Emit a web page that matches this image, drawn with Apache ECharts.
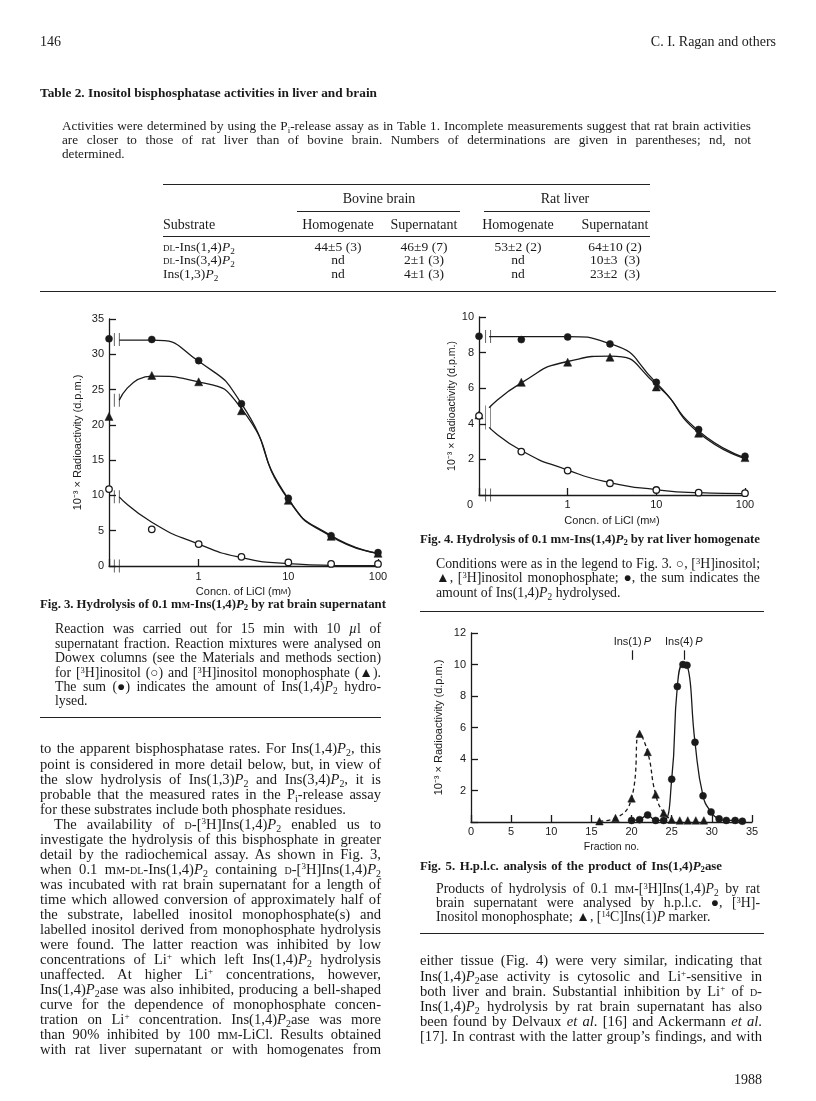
<!DOCTYPE html>
<html><head><meta charset="utf-8">
<script src="https://cdn.jsdelivr.net/npm/echarts@6/dist/echarts.min.js"></script>
<style>
html,body{margin:0;padding:0;background:#fff;}
#page{position:relative;width:816px;height:1101px;overflow:hidden;font-family:"Liberation Serif","Times New Roman",serif;color:#1a1a1a;}
#chart{position:absolute;left:0;top:0;width:816px;height:1101px;}
.ln{position:absolute;white-space:nowrap;}
.rule{position:absolute;height:0;border-top:1.5px solid #222;}
.sc{font-variant:small-caps;}
sub{font-size:0.68em;vertical-align:-0.28em;line-height:0;}
sup{font-size:0.62em;vertical-align:0.5em;line-height:0;}
b{font-weight:bold;}
</style>
</head><body>
<div id="page">
  <div id="chart"></div>
  <div id="text"></div>
</div>
<script>
// ---------------- DATA ----------------
// Fig. 3 / Fig. 4: LiCl concentration (mM); 0 is drawn where the axis starts (0.1 on the log scale)
const liclConc = [0, 0.3, 1, 3, 10, 30, 100];
const fig3Sum  = [32.2, 32.1, 29.1, 23.0, 9.6, 4.3, 1.9];
const fig3Mono = [21.2, 27.0, 26.1, 22.0, 9.3, 4.2, 1.8];
const fig3Ino  = [10.9, 5.2, 3.1, 1.3, 0.5, 0.3, 0.3];
// drawn (fitted) curves, starting at the axis break
const curveConc    = [0.13, 0.3, 1, 3, 10, 30, 100];
const fig3SumCurve  = [32.0, 32.0, 29.0, 23.0, 9.5, 4.3, 1.8];
const fig3MonoCurve = [23.5, 26.9, 26.1, 22.3, 9.4, 4.2, 1.8];
const fig3InoCurve  = [9.8, 6.2, 3.1, 1.2, 0.35, 0.1, 0.05];

const fig4Sum  = [8.92, 8.73, 8.88, 8.49, 6.33, 3.68, 2.18];
const fig4Mono = [4.5, 6.33, 7.46, 7.74, 6.07, 3.47, 2.1];
const fig4Ino  = [4.45, 2.44, 1.37, 0.66, 0.28, 0.13, 0.1];
const fig4SumCurve  = [8.9, 8.9, 8.9, 8.5, 6.3, 3.6, 2.1];
const fig4MonoCurve = [4.9, 6.3, 7.5, 7.8, 6.2, 3.5, 2.05];
const fig4InoCurve  = [3.8, 2.5, 1.4, 0.7, 0.3, 0.13, 0.08];

// axis-break marks (y positions)
const fig3BreakY = [32.1, 23.5, 9.8, 0];
const fig4BreakY = [8.9, 4.35, 0];
const fig4BreakTall = [false, true, false];

// Fig. 5: h.p.l.c. fractions
const fracCircle = [20, 21, 22, 23, 24, 25, 25.7, 26.4, 26.9, 27.9, 28.9, 29.9, 30.9, 31.8, 32.9, 33.8];
const ins4P      = [0.1, 0.15, 0.45, 0.1, 0.1, 2.72, 8.6, 10.0, 9.95, 5.06, 1.66, 0.64, 0.2, 0.1, 0.1, 0.05];
const fracTri    = [16, 18, 20, 21, 22, 23, 24, 25, 26, 27, 28, 29];
const ins1P      = [0.05, 0.25, 1.5, 5.6, 4.45, 1.75, 0.57, 0.15, 0.1, 0.1, 0.1, 0.1];
const peakNames  = ['Ins(1)', 'Ins(4)'];
const peakFrac   = [20.1, 26.5];
const peakMark   = [10.3, 10.9];

// Table 2
const tableGroups = ['Bovine brain', 'Rat liver'];
const tableCols = ['Substrate', 'Homogenate', 'Supernatant', 'Homogenate', 'Supernatant'];
const tableSubstrates = ['<span class="sc">dl</span>-Ins(1,4)<i>P</i><sub>2</sub>', '<span class="sc">dl</span>-Ins(3,4)<i>P</i><sub>2</sub>', 'Ins(1,3)<i>P</i><sub>2</sub>'];
const tableRows = [
  ['44±5 (3)', '46±9 (7)', '53±2 (2)', '64±10 (2)'],
  ['nd', '2±1 (3)', 'nd', '10±3&nbsp; (3)'],
  ['nd', '4±1 (3)', 'nd', '23±2&nbsp; (3)']
];

// ---------------- TEXT ----------------
const SC = s => '<span class="sc">' + s + '</span>';
const P2 = '<i>P</i><sub>2</sub>';
const H3 = '[<sup>3</sup>H]';

const tablePara = [
  'Activities were determined by using the P<sub>i</sub>-release assay as in Table 1. Incomplete measurements suggest that rat brain activities',
  'are closer to those of rat liver than of bovine brain. Numbers of determinations are given in parentheses; nd, not',
  'determined.'
];
const fig3Caption = [
  'Reaction was carried out for 15 min with 10 <i>µ</i>l of',
  'supernatant fraction. Reaction mixtures were analysed on',
  'Dowex columns (see the Materials and methods section)',
  'for ' + H3 + 'inositol (○) and ' + H3 + 'inositol monophosphate (▲).',
  'The sum (●) indicates the amount of Ins(1,4)' + P2 + ' hydro-',
  'lysed.'
];
const fig4Caption = [
  'Conditions were as in the legend to Fig. 3. ○, ' + H3 + 'inositol;',
  '▲, ' + H3 + 'inositol monophosphate; ●, the sum indicates the',
  'amount of Ins(1,4)' + P2 + ' hydrolysed.'
];
const fig5Caption = [
  'Products of hydrolysis of 0.1 m' + SC('m') + '-' + H3 + 'Ins(1,4)' + P2 + ' by rat',
  'brain supernatant were analysed by h.p.l.c. ●, ' + H3 + '-',
  'Inositol monophosphate; ▲, [<sup>14</sup>C]Ins(1)<i>P</i> marker.'
];
const leftBody = [
  'to the apparent bisphosphatase rates. For Ins(1,4)' + P2 + ', this',
  'point is considered in more detail below, but, in view of',
  'the slow hydrolysis of Ins(1,3)' + P2 + ' and Ins(3,4)' + P2 + ', it is',
  'probable that the measured rates in the P<sub>i</sub>-release assay',
  'for these substrates include both phosphate residues.',
  'The availability of ' + SC('d') + '-' + H3 + 'Ins(1,4)' + P2 + ' enabled us to',
  'investigate the hydrolysis of this bisphosphate in greater',
  'detail by the radiochemical assay. As shown in Fig. 3,',
  'when 0.1 m' + SC('m') + '-' + SC('dl') + '-Ins(1,4)' + P2 + ' containing ' + SC('d') + '-' + H3 + 'Ins(1,4)' + P2,
  'was incubated with rat brain supernatant for a length of',
  'time which allowed conversion of approximately half of',
  'the substrate, labelled inositol monophosphate(s) and',
  'labelled inositol derived from monophosphate hydrolysis',
  'were found. The latter reaction was inhibited by low',
  'concentrations of Li<sup>+</sup> which left Ins(1,4)' + P2 + ' hydrolysis',
  'unaffected. At higher Li<sup>+</sup> concentrations, however,',
  'Ins(1,4)' + P2 + 'ase was also inhibited, producing a bell-shaped',
  'curve for the dependence of monophosphate concen-',
  'tration on Li<sup>+</sup> concentration. Ins(1,4)' + P2 + 'ase was more',
  'than 90% inhibited by 100 m' + SC('m') + '-LiCl. Results obtained',
  'with rat liver supernatant or with homogenates from'
];
const rightBody = [
  'either tissue (Fig. 4) were very similar, indicating that',
  'Ins(1,4)' + P2 + 'ase activity is cytosolic and Li<sup>+</sup>-sensitive in',
  'both liver and brain. Substantial inhibition by Li<sup>+</sup> of ' + SC('d') + '-',
  'Ins(1,4)' + P2 + ' hydrolysis by rat brain supernatant has also',
  'been found by Delvaux <i>et al</i>. [16] and Ackermann <i>et al</i>.',
  '[17]. In contrast with the latter group’s findings, and with'
];

// ---------------- PAGE TEXT LAYOUT ----------------
const textLayer = document.getElementById('text');
function addLine(html, left, right, cy, lh, size, opts) {
  opts = opts || {};
  const d = document.createElement('div');
  d.className = 'ln';
  d.style.left = left + 'px';
  d.style.top = (cy - lh / 2) + 'px';
  d.style.lineHeight = lh + 'px';
  d.style.fontSize = size + 'px';
  if (opts.bold) d.style.fontWeight = 'bold';
  d.innerHTML = html;
  textLayer.appendChild(d);
  if (opts.justify && right != null) {
    const nat = d.getBoundingClientRect().width;
    const spaces = (d.textContent.match(/ /g) || []).length;
    if (spaces) d.style.wordSpacing = ((right - left - nat) / spaces) + 'px';
  }
  if (opts.alignRight) { const w = d.getBoundingClientRect().width; d.style.left = (right - w) + 'px'; }
  if (opts.center != null) { const w = d.getBoundingClientRect().width; d.style.left = (opts.center - w / 2) + 'px'; }
  return d;
}
function addBlock(lines, left, right, top, lh, size, lastIdx, indents) {
  indents = indents || {};
  lines.forEach((html, i) => {
    const l = left + (indents[i] || 0);
    addLine(html, l, right, top + i * lh, lh, size, {justify: lastIdx.indexOf(i) < 0});
  });
}
function addRule(x1, x2, y, w) {
  const r = document.createElement('div');
  r.className = 'rule';
  r.style.left = x1 + 'px'; r.style.width = (x2 - x1) + 'px'; r.style.top = y + 'px';
  if (w) r.style.borderTopWidth = w + 'px';
  textLayer.appendChild(r);
}

// header
addLine('146', 40, null, 42, 16, 14);
addLine('C. I. Ragan and others', null, 776, 42, 16, 14, {alignRight: true});
addLine('Table 2. Inositol bisphosphatase activities in liver and brain', 40, 377, 93, 16, 13.3, {bold: true, justify: true});
addBlock(tablePara, 62, 751, 126, 14, 13.2, [2]);
// table
addRule(163, 650, 184, 1.3);
addLine(tableGroups[0], null, null, 199, 16, 14, {center: 379});
addLine(tableGroups[1], null, null, 199, 16, 14, {center: 565});
addRule(297, 460, 211, 1.1);
addRule(484, 650, 211, 1.1);
const colCenters = [338, 424, 518, 615];
addLine(tableCols[0], 163, null, 225, 16, 14);
for (let c = 1; c < 5; c++) addLine(tableCols[c], null, null, 225, 16, 14, {center: colCenters[c - 1]});
addRule(163, 650, 236, 1.3);
tableRows.forEach((row, r) => {
  const cy = 246.5 + r * 13.6;
  addLine(tableSubstrates[r], 163, null, cy, 14, 13.5);
  row.forEach((v, c) => addLine(v, null, null, cy, 14, 13.5, {center: colCenters[c]}));
});
addRule(40, 776, 291, 1.8);

// figure captions
addLine('Fig. 3. Hydrolysis of 0.1 m' + SC('m') + '-Ins(1,4)' + P2 + ' by rat brain supernatant', 40, 386, 604, 16, 12.8, {bold: true, justify: true});
addBlock(fig3Caption, 55, 381, 629.5, 14.4, 13.8, [5]);
addRule(40, 381, 717, 1.6);
addLine('Fig. 4. Hydrolysis of 0.1 m' + SC('m') + '-Ins(1,4)' + P2 + ' by rat liver homogenate', 420, 760, 539, 16, 12.8, {bold: true, justify: true});
addBlock(fig4Caption, 436, 760, 564, 14.6, 13.8, [2]);
addRule(420, 764, 611, 1.6);
addLine('Fig. 5. H.p.l.c. analysis of the product of Ins(1,4)' + P2 + 'ase', 420, 722, 866, 16, 12.8, {bold: true, justify: true});
addBlock(fig5Caption, 436, 760, 889, 14.2, 13.8, [2]);
addRule(420, 764, 933, 1.6);

// body text
addBlock(leftBody, 40, 381, 749, 15.05, 14.6, [4], {5: 14});
addBlock(rightBody, 420, 762, 961, 15.05, 14.6, []);
addLine('1988', null, 762, 1080, 16, 14, {alignRight: true});

// ---------------- CHARTS ----------------
const INK = '#1a1a1a';
const FONT = '"Liberation Sans", Arial, sans-serif';
const ZERO_AT = 0.1;      // where concentration 0 sits on the log axis
const BREAK_AT = [0.122, 0.127];
const BREAK = 'path://M0,0L0,10M4,0L4,10';

const chart = echarts.init(document.getElementById('chart'), null, {renderer: 'canvas'});

function logX(gridIndex, zeroLabel) {
  return {
    type: 'log', logBase: 10, gridIndex, min: 0.1, max: 100,
    name: 'Concn. of LiCl (m{sc|M})', nameLocation: 'middle', nameGap: 20,
    nameTextStyle: {fontFamily: FONT, fontSize: 11, color: INK, rich: {sc: {fontSize: 8, fontFamily: FONT, color: INK}}},
    axisLine: {onZero: false, lineStyle: {color: INK, width: 1.3}},
    axisTick: {inside: true, length: 7, lineStyle: {color: INK, width: 1.3}},
    splitLine: {show: false},
    axisLabel: {
      margin: gridIndex === 0 ? 5 : 4, fontFamily: FONT, fontSize: 11, color: INK,
      formatter: v => v < 0.5 ? (zeroLabel ? '{z|0}' : '') : String(Math.round(v)),
      rich: {z: {padding: [0, 18, 0, 0], fontFamily: FONT, fontSize: 11, color: INK}}
    }
  };
}
function valY(gridIndex, max, interval, showZero, nameGap, nameSize) {
  return {
    type: 'value', gridIndex, min: 0, max, interval,
    name: '10⁻³ × Radioactivity (d.p.m.)', nameLocation: 'middle', nameGap, nameRotate: 90,
    nameTextStyle: {fontFamily: FONT, fontSize: nameSize, color: INK},
    axisLine: {show: true, lineStyle: {color: INK, width: 1.3}},
    axisTick: {show: true, inside: true, length: 7, lineStyle: {color: INK, width: 1.3}},
    splitLine: {show: false},
    axisLabel: {margin: 5, fontFamily: FONT, fontSize: 11, color: INK,
      formatter: v => (v === 0 && !showZero) ? '' : String(v)}
  };
}
const pairs = (xs, ys, mapX) => xs.map((x, i) => [mapX ? mapX(x) : x, ys[i]]);
const zx = c => c === 0 ? ZERO_AT : c;
const lineS = (xi, yi, data, dashed, sm) => ({
  type: 'line', xAxisIndex: xi, yAxisIndex: yi, data, smooth: sm || 0.6,
  showSymbol: false, symbol: 'none', silent: true, z: 2,
  lineStyle: {color: INK, width: 1.3, type: dashed ? [4, 3] : 'solid'}
});
const filled = (xi, yi, data, sym, size) => ({
  type: 'scatter', xAxisIndex: xi, yAxisIndex: yi, data, symbol: sym, symbolSize: size, z: 4,
  itemStyle: {color: INK, borderColor: INK, borderWidth: 0.5, opacity: 1}
});
const hollow = (xi, yi, data) => ({
  type: 'scatter', xAxisIndex: xi, yAxisIndex: yi, data, symbol: 'circle', symbolSize: 6.5, z: 5,
  itemStyle: {color: '#fff', borderColor: INK, borderWidth: 1.3, opacity: 1}
});
const breaks = (xi, yi, x, ys, tall) => ({
  type: 'scatter', xAxisIndex: xi, yAxisIndex: yi, z: 6, symbol: BREAK,
  data: ys.map((y, i) => ({value: [x, y], symbolSize: (tall && tall[i]) ? [5, 24] : [5, 13]})),
  itemStyle: {color: 'rgba(0,0,0,0)', borderColor: INK, borderWidth: 1.1, opacity: 1}
});

const option = {
  animation: false,
  backgroundColor: 'transparent',
  textStyle: {fontFamily: FONT},
  grid: [
    {left: 109, top: 319, width: 269, height: 247},
    {left: 479, top: 317, width: 266, height: 178},
    {left: 471, top: 633, width: 281, height: 189}
  ],
  xAxis: [
    logX(0, false),
    logX(1, true),
    {
      type: 'value', gridIndex: 2, min: 0, max: 35, interval: 5,
      name: 'Fraction no.', nameLocation: 'middle', nameGap: 20,
      nameTextStyle: {fontFamily: FONT, fontSize: 10.5, color: INK},
      axisLine: {onZero: false, lineStyle: {color: INK, width: 1.3}},
      axisTick: {inside: true, length: 7, lineStyle: {color: INK, width: 1.3}},
      splitLine: {show: false},
      axisLabel: {margin: 4, fontFamily: FONT, fontSize: 11, color: INK}
    }
  ],
  yAxis: [
    valY(0, 35, 5, true, 26, 11),
    valY(1, 10, 2, false, 20, 10.5),
    valY(2, 12, 2, false, 27, 11)
  ],
  series: [
    // Fig. 3
    lineS(0, 0, pairs(curveConc, fig3SumCurve)),
    lineS(0, 0, pairs(curveConc, fig3MonoCurve)),
    lineS(0, 0, pairs(curveConc, fig3InoCurve)),
    filled(0, 0, pairs(liclConc, fig3Sum, zx), 'circle', 7),
    filled(0, 0, pairs(liclConc, fig3Mono, zx), 'triangle', 8),
    hollow(0, 0, pairs(liclConc, fig3Ino, zx)),
    breaks(0, 0, BREAK_AT[0], fig3BreakY),
    // Fig. 4
    lineS(1, 1, pairs(curveConc, fig4SumCurve)),
    lineS(1, 1, pairs(curveConc, fig4MonoCurve)),
    lineS(1, 1, pairs(curveConc, fig4InoCurve)),
    filled(1, 1, pairs(liclConc, fig4Sum, zx), 'circle', 7),
    filled(1, 1, pairs(liclConc, fig4Mono, zx), 'triangle', 8),
    hollow(1, 1, pairs(liclConc, fig4Ino, zx)),
    breaks(1, 1, BREAK_AT[1], fig4BreakY, fig4BreakTall),
    // Fig. 5
    lineS(2, 2, pairs(fracTri, ins1P).filter(p => p[0] <= 25), true, 0.5),
    lineS(2, 2, pairs(fracCircle, ins4P), false, 0.5),
    Object.assign(filled(2, 2, pairs(fracTri, ins1P), 'triangle', 7.5), {
      markLine: {
        silent: true, symbol: ['none', 'none'], animation: false,
        lineStyle: {color: INK, width: 1.2, type: 'solid'},
        label: {show: true, position: 'end', distance: 3, color: INK, fontFamily: FONT, fontSize: 11,
          formatter: p => '{n|' + p.name + '}{i|P}',
          rich: {n: {fontFamily: FONT, fontSize: 11, color: INK}, i: {fontFamily: FONT, fontSize: 11, fontStyle: 'italic', color: INK, padding: [0, 0, 0, 2]}}},
        data: peakNames.map((n, i) => [{coord: [peakFrac[i], peakMark[0]], name: n}, {coord: [peakFrac[i], peakMark[1]]}])
      }
    }),
    filled(2, 2, pairs(fracCircle, ins4P), 'circle', 7)
  ]
};
chart.setOption(option);
</script>
</body></html>
